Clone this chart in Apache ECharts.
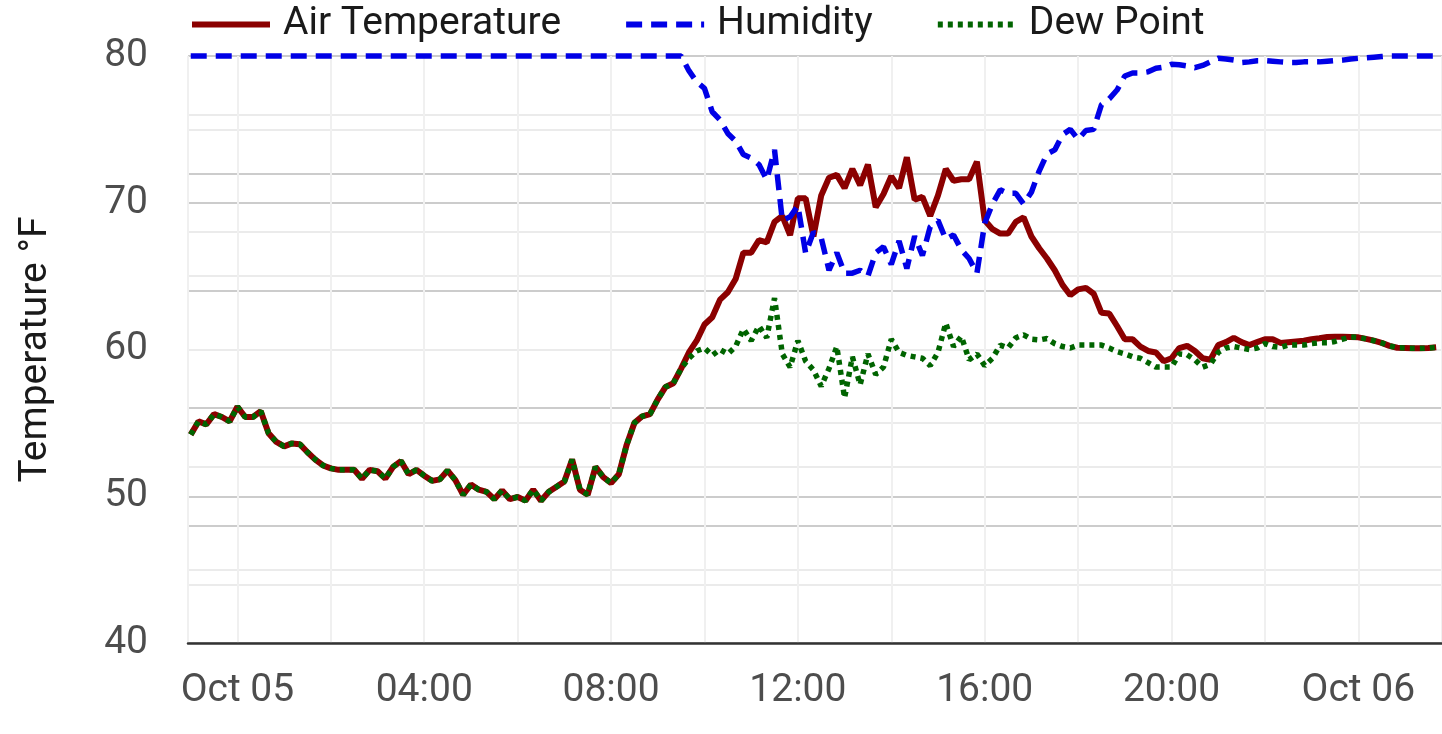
<!DOCTYPE html>
<html>
<head>
<meta charset="utf-8">
<title>Temperature</title>
<script src="https://cdn.jsdelivr.net/npm/echarts@6/dist/echarts.min.js"></script>
<style>
  html, body { margin: 0; padding: 0; background: #fff; }
  #main { width: 1442px; height: 734px; }
</style>
</head>
<body>
<div id="main"></div>
<script>
// readings every 10 minutes, starting Oct 04 23:00
var startTime = Date.UTC(2023, 9, 4, 23, 0);
var stepMinutes = 10;

var airTemp = [
  54.2, 55.1, 54.9, 55.6, 55.4, 55.1, 56.1, 55.4, 55.4, 55.8,
  54.3, 53.7, 53.4, 53.6, 53.55, 53.0, 52.5, 52.1, 51.9, 51.8,
  51.8, 51.8, 51.2, 51.8, 51.7, 51.2, 52.0, 52.4, 51.5, 51.8,
  51.4, 51.05, 51.15, 51.75, 51.1, 50.1, 50.8, 50.45, 50.3, 49.8,
  50.4, 49.8, 49.95, 49.7, 50.45, 49.7, 50.3, 50.65, 51.0, 52.5,
  50.45, 50.1, 52.0, 51.3, 50.9, 51.5, 53.5, 55.0, 55.45, 55.6,
  56.6, 57.45, 57.7, 58.7, 59.8, 60.6, 61.7, 62.2, 63.4, 63.9,
  64.8, 66.6, 66.6, 67.45, 67.3, 68.7, 69.1, 67.8, 70.3, 70.3,
  67.7, 70.5, 71.7, 71.9, 71.0, 72.3, 71.2, 72.6, 69.7, 70.6,
  71.8, 71.0, 73.1, 70.2, 70.4, 69.1, 70.5, 72.3, 71.5, 71.6,
  71.6, 72.8, 68.8, 68.2, 67.9, 67.9, 68.7, 69.0, 67.7, 66.9,
  66.2, 65.4, 64.4, 63.7, 64.1, 64.2, 63.8, 62.5, 62.45, 61.6,
  60.7, 60.7, 60.2, 59.9, 59.8, 59.2, 59.4, 60.1, 60.25, 59.9,
  59.4, 59.3, 60.3, 60.5, 60.8, 60.5, 60.3, 60.5, 60.7, 60.7,
  60.45, 60.5, 60.55, 60.6, 60.7, 60.77, 60.85, 60.87, 60.87, 60.85,
  60.83, 60.72, 60.6, 60.45, 60.25, 60.12, 60.1, 60.08, 60.08, 60.1,
  60.15
];

var humidity = [
  100, 100, 100, 100, 100, 100, 100, 100, 100, 100,
  100, 100, 100, 100, 100, 100, 100, 100, 100, 100,
  100, 100, 100, 100, 100, 100, 100, 100, 100, 100,
  100, 100, 100, 100, 100, 100, 100, 100, 100, 100,
  100, 100, 100, 100, 100, 100, 100, 100, 100, 100,
  100, 100, 100, 100, 100, 100, 100, 100, 100, 100,
  100, 100, 100, 100, 97.5, 95.6, 94.5, 90.5, 89.1, 86.8,
  85.5, 83.2, 82.6, 81.5, 78.9, 84.0, 72.0, 72.6, 74.5, 66.4,
  70.0, 69.0, 63.5, 66.5, 63.0, 63.0, 63.5, 62.5, 66.5, 67.5,
  64.5, 68.5, 63.8, 69.3, 66.0, 70.9, 72.0, 68.8, 69.5, 67.0,
  65.5, 63.0, 71.5, 74.8, 77.2, 76.6, 76.6, 74.8, 76.8, 80.4,
  83.3, 84.0, 86.6, 87.5, 85.8, 87.3, 87.5, 91.7, 92.7, 94.2,
  96.6, 97.1, 97.1, 97.3, 97.9, 98.1, 98.6, 98.5, 98.3, 98.0,
  98.4, 99.0, 99.6, 99.5, 99.3, 98.9, 99.0, 99.2, 99.2, 99.1,
  99.0, 98.9, 98.9, 99.0, 99.0, 99.0, 99.1, 99.2, 99.3, 99.5,
  99.6, 99.7, 99.8, 99.9, 100, 100, 100, 100, 100, 100,
  100
];

var dewPoint = [
  54.2, 55.1, 54.9, 55.6, 55.4, 55.1, 56.1, 55.4, 55.4, 55.8,
  54.3, 53.7, 53.4, 53.6, 53.55, 53.0, 52.5, 52.1, 51.9, 51.8,
  51.8, 51.8, 51.2, 51.8, 51.7, 51.2, 52.0, 52.4, 51.5, 51.8,
  51.4, 51.05, 51.15, 51.75, 51.1, 50.1, 50.8, 50.45, 50.3, 49.8,
  50.4, 49.8, 49.95, 49.7, 50.45, 49.7, 50.3, 50.65, 51.0, 52.5,
  50.45, 50.1, 52.0, 51.3, 50.9, 51.5, 53.5, 55.0, 55.45, 55.6,
  56.6, 57.45, 57.7, 58.7, 59.4, 59.9, 60.1, 59.6, 60.0, 59.7,
  60.2, 61.4, 60.6, 61.6, 60.8, 63.5, 59.7, 58.8, 60.6, 59.2,
  58.6, 57.5, 58.7, 60.2, 56.7, 59.5, 57.6, 59.7, 58.3, 58.8,
  60.7, 59.8, 59.6, 59.5, 59.4, 58.9, 59.8, 61.8, 60.2, 60.9,
  59.3, 59.7, 58.9, 59.4, 60.3, 60.1, 60.8, 61.0, 60.7, 60.65,
  60.75, 60.4, 60.2, 60.1, 60.3, 60.3, 60.3, 60.3, 60.1, 59.85,
  59.7, 59.5, 59.4, 59.1, 58.8, 58.8, 58.8, 59.7, 59.65, 59.3,
  58.8, 59.0, 59.8, 60.1, 60.2, 60.1, 60.0, 60.1, 60.4, 60.2,
  60.15, 60.3, 60.3, 60.3, 60.4, 60.45, 60.46, 60.55, 60.7, 60.85,
  60.83, 60.72, 60.6, 60.45, 60.25, 60.12, 60.1, 60.08, 60.08, 60.1,
  60.15
];

var tempTicks = [40, 50, 60, 70, 80];
var humidityRange = [0, 100];

function pairs(values) {
  return values.map(function (v, i) {
    return [startTime + i * stepMinutes * 60000, v];
  });
}

function pad(n) { return n < 10 ? '0' + n : '' + n; }

var font = 'Roboto';
var HOUR = 3600 * 1000;
var myChart = echarts.init(document.getElementById('main'));
myChart.setOption({
  useUTC: true,
  animation: false,
  backgroundColor: '#fff',
  textStyle: { fontFamily: font },
  legend: {
    top: 0,
    left: 184,
    itemWidth: 78,
    itemHeight: 22,
    itemGap: 62,
    itemStyle: { opacity: 0 },
    lineStyle: { width: 6 },
    textStyle: { fontSize: 39, color: '#1a1a1a', fontFamily: font, padding: [0, 0, 0, 8] },
    data: ['Air Temperature', 'Humidity', 'Dew Point']
  },
  grid: { left: 188, right: 0, top: 56, bottom: 91, containLabel: false },
  xAxis: {
    type: 'time',
    min: Date.UTC(2023, 9, 4, 22, 56, 30),
    max: Date.UTC(2023, 9, 6, 1, 47, 30),
    minInterval: 2.5 * HOUR,
    maxInterval: 3 * HOUR,
    axisLine: { show: true, lineStyle: { color: '#333', width: 2.5 } },
    axisTick: { show: false },
    splitLine: { show: true, lineStyle: { color: '#f0f0f0', width: 2 } },
    axisLabel: {
      fontSize: 39,
      color: '#4d4d4d',
      margin: 29,
      hideOverlap: false,
      formatter: function (v) {
        var d = new Date(v);
        var h = d.getUTCHours();
        if (d.getUTCMinutes() !== 0 || h % 4 !== 0) return '';
        if (h === 0) return 'Oct ' + pad(d.getUTCDate());
        return pad(h) + ':00';
      }
    }
  },
  yAxis: [
    {
      type: 'value',
      min: tempTicks[0],
      max: tempTicks[tempTicks.length - 1],
      interval: 10,
      name: 'Temperature °F',
      nameLocation: 'middle',
      nameGap: 132,
      nameTextStyle: { fontSize: 39, color: '#1a1a1a', fontFamily: font },
      axisLine: { show: false },
      axisTick: { show: false },
      axisLabel: { fontSize: 39, color: '#4d4d4d', margin: 40 },
      splitLine: { show: true, lineStyle: { color: '#cccccc', width: 2 } },
      minorTick: { show: false, splitNumber: 2 },
      minorSplitLine: { show: true, lineStyle: { color: '#ebebeb', width: 2 } }
    },
    {
      type: 'value',
      min: humidityRange[0],
      max: humidityRange[1],
      interval: 20,
      position: 'right',
      axisLine: { show: false },
      axisTick: { show: false },
      axisLabel: { show: false },
      splitLine: { show: true, lineStyle: { color: '#cccccc', width: 2 } },
      minorTick: { show: false, splitNumber: 2 },
      minorSplitLine: { show: true, lineStyle: { color: '#ebebeb', width: 2 } }
    }
  ],
  series: [
    {
      name: 'Air Temperature',
      type: 'line',
      yAxisIndex: 0,
      symbol: 'none',
      clip: false,
      itemStyle: { color: '#8b0000' },
      lineStyle: { color: '#8b0000', width: 6 },
      data: pairs(airTemp)
    },
    {
      name: 'Humidity',
      type: 'line',
      yAxisIndex: 1,
      symbol: 'none',
      clip: false,
      itemStyle: { color: '#0000e6' },
      lineStyle: { color: '#0000e6', width: 5.5, type: [16, 9] },
      data: pairs(humidity)
    },
    {
      name: 'Dew Point',
      type: 'line',
      yAxisIndex: 0,
      symbol: 'none',
      clip: false,
      itemStyle: { color: '#006400' },
      lineStyle: { color: '#006400', width: 5.5, type: [5, 5] },
      data: pairs(dewPoint)
    }
  ]
});
</script>
</body>
</html>
